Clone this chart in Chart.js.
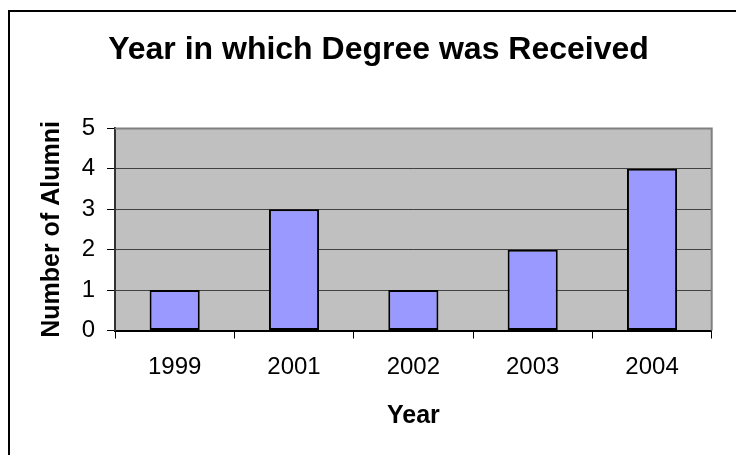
<!DOCTYPE html>
<html>
<head>
<meta charset="utf-8">
<script src="https://cdn.jsdelivr.net/npm/chart.js@4.4.1/dist/chart.umd.min.js"></script>
<style>
    html, body { margin: 0; padding: 0; background: #fff; overflow: hidden; }
    #frame {
        position: absolute; left: 8px; top: 10px;
        width: 800px; height: 500px;
        border: 2px solid #000; background: #fff;
    }
    #chart { position: absolute; left: 0; top: 0; }
</style>
</head>
<body>
<div id="frame"></div>
<canvas id="chart" width="736" height="455"></canvas>
<script>
// Chart data
const years = ['1999', '2001', '2002', '2003', '2004'];
const alumniCounts = [1, 3, 1, 2, 4];
const yMin = 0;
const yMax = 5;
const yStep = 1;

Chart.defaults.font.family = "'Liberation Sans', Arial, sans-serif";
Chart.defaults.color = '#000';

// Gray plot background with the Excel-like top/right edge
const plotArea = {
    id: 'plotArea',
    beforeDraw(chart) {
        const { ctx, chartArea: a } = chart;
        ctx.save();
        ctx.fillStyle = '#c0c0c0';
        ctx.fillRect(a.left, a.top, a.right - a.left, a.bottom - a.top);
        ctx.restore();
    },
    beforeDatasetsDraw(chart) {
        const { ctx, chartArea: a } = chart;
        ctx.save();
        ctx.strokeStyle = '#808080';
        ctx.lineWidth = 2;
        ctx.beginPath();
        ctx.moveTo(a.left, a.top);
        ctx.lineTo(a.right, a.top);
        ctx.lineTo(a.right, a.bottom);
        ctx.stroke();
        ctx.restore();
    }
};

const ctx = document.getElementById('chart').getContext('2d');
new Chart(ctx, {
    type: 'bar',
    data: {
        labels: years,
        datasets: [{
            label: 'Number of Alumni',
            data: alumniCounts,
            backgroundColor: '#9999ff',
            borderColor: '#000',
            borderWidth: 2,
            borderSkipped: false,
            categoryPercentage: 1,
            barPercentage: 0.42
        }]
    },
    options: {
        responsive: false,
        animation: false,
        layout: { padding: { left: 21, right: 0, top: 10, bottom: 0 } },
        plugins: {
            legend: { display: false },
            tooltip: { enabled: false },
            title: {
                display: true,
                text: 'Year in which Degree was Received',
                font: { size: 32, weight: 'bold' },
                padding: { top: 21, bottom: 59 }
            }
        },
        scales: {
            x: {
                grid: {
                    offset: true,
                    drawOnChartArea: false,
                    tickLength: 8,
                    tickColor: '#000',
                    tickWidth: 1
                },
                border: { color: '#000', width: 2 },
                ticks: { font: { size: 24 }, padding: 14, maxRotation: 0 },
                title: {
                    display: true,
                    text: 'Year',
                    font: { size: 25, weight: 'bold' },
                    padding: { top: 0, bottom: 24 }
                },
                afterFit(scale) { scale.height = 124.5; }
            },
            y: {
                min: yMin,
                max: yMax,
                grid: {
                    color: '#404040',
                    lineWidth: 1,
                    tickLength: 8,
                    tickColor: '#000'
                },
                border: { color: '#333', width: 2 },
                ticks: { stepSize: yStep, font: { size: 24 }, padding: 12 },
                title: {
                    display: true,
                    text: 'Number of Alumni',
                    font: { size: 25, weight: 'bold' },
                    padding: { top: 16, bottom: 0 }
                },
                afterFit(scale) { scale.width = 94; }
            },
            // empty right-hand axis, keeps the plot clear of the right edge
            y2: {
                position: 'right',
                grid: { display: false },
                border: { display: false },
                ticks: { display: false },
                afterFit(scale) { scale.width = 24.3; }
            }
        }
    },
    plugins: [plotArea]
});
</script>
</body>
</html>
